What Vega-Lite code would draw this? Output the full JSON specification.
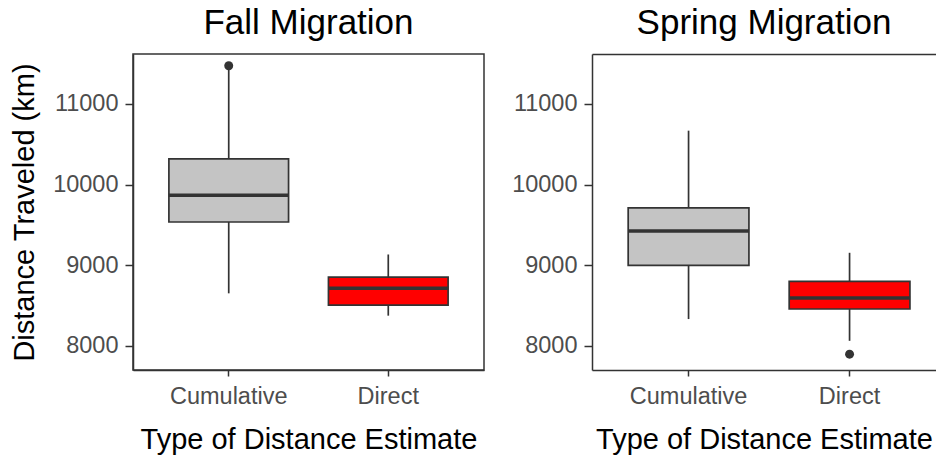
{
  "$schema": "https://vega.github.io/schema/vega-lite/v6.json",
  "padding": {"left": 9, "top": 5, "right": 0, "bottom": 0},
  "background": "white",
  "spacing": 26,
  "datasets": {
    "boxes": [
      {"season": "Fall", "type": "Cumulative", "lower": 8651, "q1": 9536, "median": 9868, "q3": 10320, "upper": 11430},
      {"season": "Fall", "type": "Direct", "lower": 8374, "q1": 8506, "median": 8714, "q3": 8851, "upper": 9133},
      {"season": "Spring", "type": "Cumulative", "lower": 8332, "q1": 8998, "median": 9423, "q3": 9710, "upper": 10669},
      {"season": "Spring", "type": "Direct", "lower": 8062, "q1": 8457, "median": 8594, "q3": 8800, "upper": 9154}
    ],
    "outliers": [
      {"season": "Fall", "type": "Cumulative", "value": 11474},
      {"season": "Spring", "type": "Direct", "value": 7896}
    ]
  },
  "config": {
    "view": {"stroke": "#333333", "strokeWidth": 1.5},
    "font": "Liberation Sans",
    "axis": {
      "grid": false,
      "domainColor": "#333333", "domainWidth": 1.5,
      "tickColor": "#333333", "tickWidth": 1.5, "tickSize": 8,
      "labelFont": "Liberation Sans", "labelFontSize": 23.5, "labelColor": "#4D4D4D",
      "titleFont": "Liberation Sans", "titleFontSize": 29, "titleFontWeight": "normal", "titleColor": "#000000"
    },
    "axisY": {"labelPadding": 7, "titlePadding": 13},
    "axisX": {"labelPadding": 8, "titlePadding": 18, "labelAngle": 0, "tickSize": 6},
    "title": {"font": "Liberation Sans", "fontSize": 35, "fontWeight": "normal", "color": "#000000", "anchor": "middle", "baseline": "bottom", "offset": 13}
  },
  "hconcat": [
    {
      "title": {"text": "Fall Migration"},
      "width": 351,
      "height": 316,
      "data": {"name": "boxes"},
      "transform": [{"filter": "datum.season === 'Fall'"}],
      "layer": [
        {
          "mark": {"type": "rule", "color": "#333333", "strokeWidth": 1.7, "opacity": 1},
          "encoding": {
            "x": {"field": "type", "type": "nominal", "scale": {"paddingInner": 0, "paddingOuter": 0.1}, "axis": {"title": "Type of Distance Estimate"}},
            "y": {"field": "lower", "type": "quantitative", "scale": {"domain": [7700, 11620], "nice": false, "zero": false}, "axis": {"title": "Distance Traveled (km)", "values": [8000, 9000, 10000, 11000], "format": "d"}},
            "y2": {"field": "upper"}
          }
        },
        {
          "mark": {"type": "bar", "stroke": "#333333", "strokeWidth": 1.7, "opacity": 1, "width": {"band": 0.75}},
          "encoding": {
            "x": {"field": "type", "type": "nominal", "axis": {"title": "Type of Distance Estimate"}},
            "y": {"field": "q1", "type": "quantitative", "axis": {"title": "Distance Traveled (km)", "values": [8000, 9000, 10000, 11000], "format": "d"}},
            "y2": {"field": "q3"},
            "fill": {"field": "type", "type": "nominal", "scale": {"domain": ["Cumulative", "Direct"], "range": ["#C4C4C4", "#FF0000"]}, "legend": null}
          }
        },
        {
          "mark": {"type": "tick", "color": "#333333", "opacity": 1, "thickness": 3.5, "size": 120},
          "encoding": {
            "x": {"field": "type", "type": "nominal", "axis": {"title": "Type of Distance Estimate"}},
            "y": {"field": "median", "type": "quantitative", "axis": {"title": "Distance Traveled (km)", "values": [8000, 9000, 10000, 11000], "format": "d"}}
          }
        },
        {
          "data": {"name": "outliers"},
          "transform": [{"filter": "datum.season === 'Fall'"}],
          "mark": {"type": "point", "filled": true, "color": "#333333", "opacity": 1, "size": 80},
          "encoding": {
            "x": {"field": "type", "type": "nominal", "axis": {"title": "Type of Distance Estimate"}},
            "y": {"field": "value", "type": "quantitative", "axis": {"title": "Distance Traveled (km)", "values": [8000, 9000, 10000, 11000], "format": "d"}}
          }
        }
      ]
    },
    {
      "title": {"text": "Spring Migration"},
      "width": 344,
      "height": 316,
      "view": {"stroke": null},
      "data": {"name": "boxes"},
      "transform": [{"filter": "datum.season === 'Spring'"}],
      "resolve": {"axis": {"x": "independent"}},
      "layer": [
        {
          "mark": {"type": "rule", "color": "#333333", "strokeWidth": 1.7, "opacity": 1},
          "encoding": {
            "x": {"field": "type", "type": "nominal", "scale": {"paddingInner": 0, "paddingOuter": 0.0683, "align": 0.73}, "axis": {"title": "Type of Distance Estimate"}},
            "y": {"field": "lower", "type": "quantitative", "scale": {"domain": [7700, 11620], "nice": false, "zero": false}, "axis": {"title": null, "values": [8000, 9000, 10000, 11000], "format": "d"}},
            "y2": {"field": "upper"}
          }
        },
        {
          "mark": {"type": "bar", "stroke": "#333333", "strokeWidth": 1.7, "opacity": 1, "width": {"band": 0.75}},
          "encoding": {
            "x": {"field": "type", "type": "nominal", "axis": null},
            "y": {"field": "q1", "type": "quantitative", "axis": {"title": null, "values": [8000, 9000, 10000, 11000], "format": "d"}},
            "y2": {"field": "q3"},
            "fill": {"field": "type", "type": "nominal", "scale": {"domain": ["Cumulative", "Direct"], "range": ["#C4C4C4", "#FF0000"]}, "legend": null}
          }
        },
        {
          "mark": {"type": "tick", "color": "#333333", "opacity": 1, "thickness": 3.5, "size": 121},
          "encoding": {
            "x": {"field": "type", "type": "nominal", "axis": null},
            "y": {"field": "median", "type": "quantitative", "axis": {"title": null, "values": [8000, 9000, 10000, 11000], "format": "d"}}
          }
        },
        {
          "data": {"name": "outliers"},
          "transform": [{"filter": "datum.season === 'Spring'"}],
          "mark": {"type": "point", "filled": true, "color": "#333333", "opacity": 1, "size": 80},
          "encoding": {
            "x": {"field": "type", "type": "nominal", "axis": {"orient": "top", "labels": false, "ticks": false, "title": null, "domain": true}},
            "y": {"field": "value", "type": "quantitative", "axis": {"title": null, "values": [8000, 9000, 10000, 11000], "format": "d"}}
          }
        }
      ]
    }
  ]
}
